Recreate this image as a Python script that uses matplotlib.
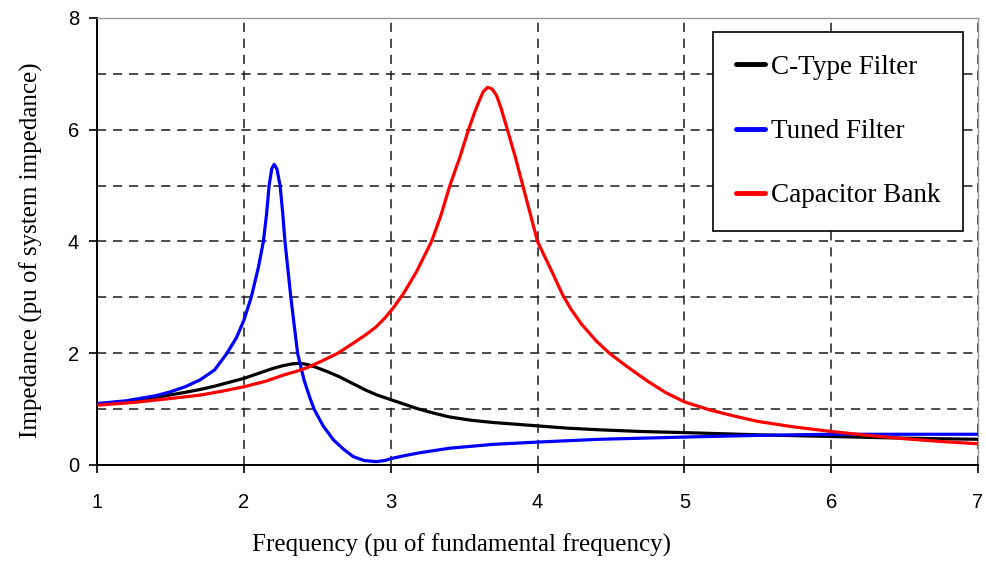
import matplotlib.pyplot as plt
from matplotlib.ticker import MultipleLocator

# -----------------------------
# Data
# -----------------------------
freq_ctype = [1.0, 1.2, 1.4, 1.6, 1.7, 1.8, 1.9, 2.0, 2.1, 2.2, 2.27, 2.33, 2.38,
              2.43, 2.49, 2.57, 2.65, 2.74, 2.83, 2.91, 3.0, 3.09, 3.18, 3.29, 3.4,
              3.55, 3.7, 3.85, 4.0, 4.2, 4.42, 4.7, 5.0, 5.5, 6.0, 6.5, 7.0]
z_ctype = [1.08, 1.13, 1.21, 1.30, 1.35, 1.41, 1.48, 1.55, 1.64, 1.73, 1.78, 1.81, 1.82,
           1.80, 1.75, 1.67, 1.58, 1.46, 1.34, 1.25, 1.17, 1.09, 1.01, 0.93, 0.86,
           0.80, 0.76, 0.73, 0.70, 0.66, 0.63, 0.60, 0.58, 0.54, 0.51, 0.48, 0.46]

freq_tuned = [1.0, 1.2, 1.4, 1.5, 1.6, 1.7, 1.8, 1.88, 1.95, 2.0, 2.05, 2.1, 2.133,
              2.155, 2.172, 2.19, 2.206, 2.225, 2.247, 2.265, 2.28, 2.30, 2.32, 2.343,
              2.366, 2.41, 2.45, 2.48, 2.54, 2.61, 2.68, 2.745, 2.82, 2.9, 2.96, 3.01,
              3.1, 3.2, 3.4, 3.7, 4.0, 4.42, 5.0, 5.5, 6.0, 7.0]
z_tuned = [1.10, 1.15, 1.24, 1.31, 1.40, 1.52, 1.70, 1.98, 2.28, 2.59, 3.0, 3.55, 4.0,
           4.5, 5.0, 5.3, 5.38, 5.3, 5.0, 4.5, 4.0, 3.5, 3.0, 2.5,
           2.0, 1.52, 1.2, 0.99, 0.70, 0.45, 0.28, 0.15, 0.08, 0.06, 0.08, 0.12,
           0.17, 0.22, 0.30, 0.37, 0.41, 0.46, 0.50, 0.53, 0.55, 0.55]

freq_cap = [1.0, 1.25, 1.5, 1.7, 1.85, 2.0, 2.15, 2.27, 2.35, 2.43, 2.53, 2.64,
            2.745, 2.83, 2.9, 2.96, 3.02, 3.09, 3.176, 3.278, 3.34, 3.403, 3.47,
            3.53, 3.57, 3.60, 3.63, 3.66, 3.69, 3.72, 3.75, 3.795, 3.85, 3.90, 3.95,
            4.0, 4.04, 4.1, 4.17, 4.23, 4.3, 4.4, 4.49, 4.6, 4.75, 4.87, 5.0, 5.18,
            5.35, 5.5, 5.75, 6.0, 6.25, 6.5, 6.75, 7.0]
z_cap = [1.07, 1.12, 1.19, 1.25, 1.32, 1.40, 1.50, 1.61, 1.67, 1.74, 1.86, 2.0,
         2.18, 2.33, 2.47, 2.63, 2.82, 3.08, 3.46, 4.0, 4.45, 5.0, 5.5,
         6.0, 6.3, 6.5, 6.68, 6.76, 6.73, 6.62, 6.4, 6.0, 5.5, 5.0, 4.5,
         4.0, 3.78, 3.45, 3.05, 2.78, 2.52, 2.22, 2.0, 1.78, 1.5, 1.3, 1.13, 0.98,
         0.87, 0.78, 0.68, 0.60, 0.53, 0.47, 0.42, 0.38]

series_labels = ["C-Type Filter", "Tuned Filter", "Capacitor Bank"]

# -----------------------------
# Figure
# -----------------------------
fig = plt.figure(figsize=(9.86, 5.62), dpi=100)
ax = fig.add_axes([0.0984, 0.1726, 0.8935, 0.7954])

line_kw = dict(lw=2.3, zorder=3, solid_joinstyle="round", solid_capstyle="round")
ax.plot(freq_ctype, z_ctype, color="black", label=series_labels[0], **line_kw)
ax.plot(freq_tuned, z_tuned, color="#0000ff", label=series_labels[1], **line_kw)
ax.plot(freq_cap, z_cap, color="#ff0000", label=series_labels[2], **line_kw)

ax.set_xlim(1, 7)
ax.set_ylim(0, 8)
ax.xaxis.set_major_locator(MultipleLocator(1))
ax.yaxis.set_major_locator(MultipleLocator(2))
ax.yaxis.set_minor_locator(MultipleLocator(1))

# dashed grid
grid_style = dict(color="#1a1a1a", lw=1.1, linestyle=(0, (6, 4.5)))
ax.grid(True, which="major", axis="x", **grid_style)
ax.grid(True, which="both", axis="y", **grid_style)
ax.set_axisbelow(True)

# spines
for side in ["left", "bottom"]:
    ax.spines[side].set_color("black")
    ax.spines[side].set_linewidth(1.4)
for side in ["top", "right"]:
    ax.spines[side].set_color("#999999")
    ax.spines[side].set_linewidth(1.0)

ax.tick_params(axis="both", which="major", direction="out", length=6, width=1.2,
               labelsize=14.5, colors="black")
ax.tick_params(axis="x", which="major", pad=14)
ax.tick_params(axis="y", which="major", pad=7)
ax.tick_params(axis="y", which="minor", length=0)
for lbl in ax.get_xticklabels() + ax.get_yticklabels():
    lbl.set_family("Liberation Sans")

ax.set_xlabel("Frequency (pu of fundamental frequency)", family="Liberation Serif",
              fontsize=18, labelpad=16, x=0.414)
ax.set_ylabel("Impedance (pu of system impedance)", family="Liberation Serif",
              fontsize=18, labelpad=18, y=0.48)

leg = ax.legend(loc="upper right", bbox_to_anchor=(0.983, 0.969), borderaxespad=0,
                prop={"family": "Liberation Serif", "size": 19.5},
                frameon=True, fancybox=False, framealpha=1, edgecolor="black",
                handlelength=1.07, handletextpad=0.2, labelspacing=1.45,
                borderpad=0.85)
leg.get_frame().set_linewidth(1.2)
for line in leg.get_lines():
    line.set_linewidth(3.5)

fig.savefig("out.png", dpi=100)
